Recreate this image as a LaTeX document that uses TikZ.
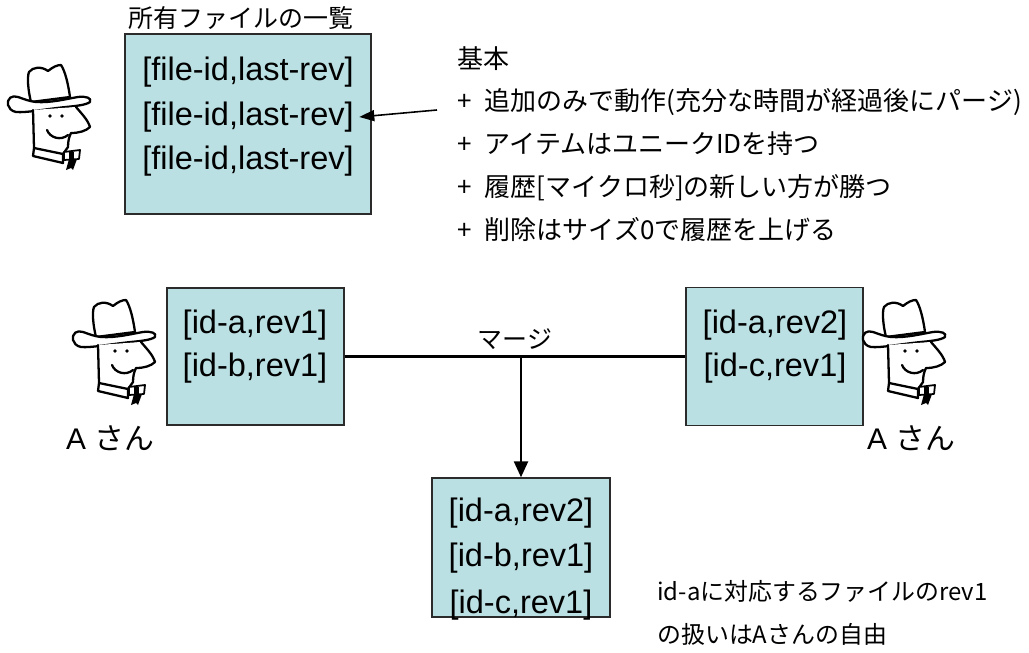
\documentclass[tikz,border=0pt]{standalone}
\usepackage{fontspec}
\setmainfont{Liberation Sans}
\newfontfamily\jp{Noto Sans CJK JP}
\usetikzlibrary{arrows.meta}
\definecolor{listcol}{HTML}{BBE0E3}
\definecolor{edgecol}{HTML}{2B2B2B}
\tikzset{
  listbox/.style={rectangle, draw=edgecol, fill=listcol, line width=0.8pt},
  entry/.style={font=\fontsize{18.5}{22}\selectfont, inner sep=3pt},
  jnote/.style={font=\jp\fontsize{14.8}{24.4}\selectfont, align=left, inner sep=0pt},
  jlabel/.style={font=\jp\fontsize{14.2}{17}\selectfont},
  who/.style={font=\fontsize{17}{20}\selectfont, inner sep=0pt},
  cowboy/.pic={
    \begin{scope}[x=0.02cm, y=-0.02cm, line width=1.3pt, line join=round, line cap=round]
      % crown, then brim over it
      \filldraw[fill=white] (25,37) .. controls (22,25) and (21,12) .. (23,7)
        .. controls (27,2) and (35,1) .. (42,6) .. controls (47,2) and (51,0) .. (55,0)
        .. controls (59,6) and (62,18) .. (64,32) -- cycle;
      \filldraw[fill=white] (2,40) .. controls (1,33) and (6,30) .. (12,32)
        .. controls (18,34) and (22,36) .. (30,37) .. controls (45,38) and (60,34) .. (72,32)
        .. controls (80,31) and (86,33) .. (84,37) .. controls (80,40) and (70,41) .. (60,42)
        .. controls (40,44) and (20,48) .. (10,47) .. controls (5,46) and (3,43) .. (2,40) -- cycle;
      % face with nose
      \filldraw[fill=white] (27,45) -- (28,83) -- (57,89) -- (62,82)
        .. controls (62,76) and (63,72) .. (65,68) .. controls (73,68) and (80,66) .. (84,62)
        .. controls (82,55) and (75,48) .. (70,42);
      \fill (44,51) circle (1.8);
      \fill (56,51) circle (1.8);
      \draw (41,65) .. controls (44,73) and (55,76) .. (62,70);
      % collar and tie
      \draw (28,83) -- (27,91) -- (57,98) -- (57,89);
      \filldraw[fill=white, line width=1pt] (58,87) -- (74,85) -- (73,94) -- (58,95) -- cycle;
      \fill (63,87) rectangle (68,95);
      \fill (63,94) -- (60,105) -- (65,103) -- (67,105) -- (71,94) -- cycle;
    \end{scope}
  }
}

\begin{document}
\begin{tikzpicture}[>={Triangle[length=0.3cm, width=0.22cm]}]
  \useasboundingbox (0,0) rectangle (20.58,13.06);
  % list of owned files
  \node[listbox, minimum width=4.92cm, minimum height=3.6cm] (files) at (4.96,10.58) {};
  \node[jlabel, inner sep=0pt] (filestitle) at (4.82,12.70) {所有ファイルの一覧};
  \node[entry] (f1) at (4.96,11.62) {[file-id,last-rev]};
  \node[entry] (f2) at (4.96,10.72) {[file-id,last-rev]};
  \node[entry] (f3) at (4.96,9.84) {[file-id,last-rev]};
  \pic at (0.12,11.76) {cowboy};
  % rules
  \node[jnote, anchor=west] (rules) at (9.14,10.18)
    {基本\\+\enspace 追加のみで動作(充分な時間が経過後にパージ)\\+\enspace アイテムはユニークIDを持つ\\+\enspace 履歴[マイクロ秒]の新しい方が勝つ\\+\enspace 削除はサイズ0で履歴を上げる};
  \coordinate (pointer) at (8.74,10.86);
  \draw[->, line width=0.9pt] (pointer) -- (f2.east);

  % two copies to merge
  \node[listbox, minimum width=3.54cm, minimum height=2.74cm] (mine) at (5.11,5.93) {};
  \node[entry] (m1) at (5.10,6.56) {[id-a,rev1]};
  \node[entry] (m2) at (5.10,5.70) {[id-b,rev1]};
  \pic at (1.42,7.06) {cowboy};
  \node[who] (nameA) at (2.20,4.30) {A {\jp さん}};

  \node[listbox, minimum width=3.54cm, minimum height=2.76cm] (theirs) at (15.49,5.93) {};
  \node[entry] (t1) at (15.50,6.56) {[id-a,rev2]};
  \node[entry] (t2) at (15.50,5.70) {[id-c,rev1]};
  \pic at (17.22,7.06) {cowboy};
  \node[who] (nameB) at (18.22,4.30) {A {\jp さん}};

  \draw[line width=1.4pt] (mine) -- node[jlabel, above] (mergelabel) {マージ} (theirs);

  % result
  \node[listbox, minimum width=3.56cm, minimum height=2.78cm] (merged) at (10.42,2.11) {};
  \node[entry] (r1) at (10.42,2.80) {[id-a,rev2]};
  \node[entry] (r2) at (10.42,1.90) {[id-b,rev1]};
  \node[entry] (r3) at (10.42,0.96) {[id-c,rev1]};
  \draw[-{Triangle[length=0.32cm, width=0.28cm]}, line width=1.4pt] (merged.north |- mine.east) -- (merged.north);

  \node[jnote, font=\jp\fontsize{13.6}{24.4}\selectfont, anchor=west] (note) at (13.14,0.80)
    {id-aに対応するファイルのrev1\\の扱いはAさんの自由};
\end{tikzpicture}
\end{document}
